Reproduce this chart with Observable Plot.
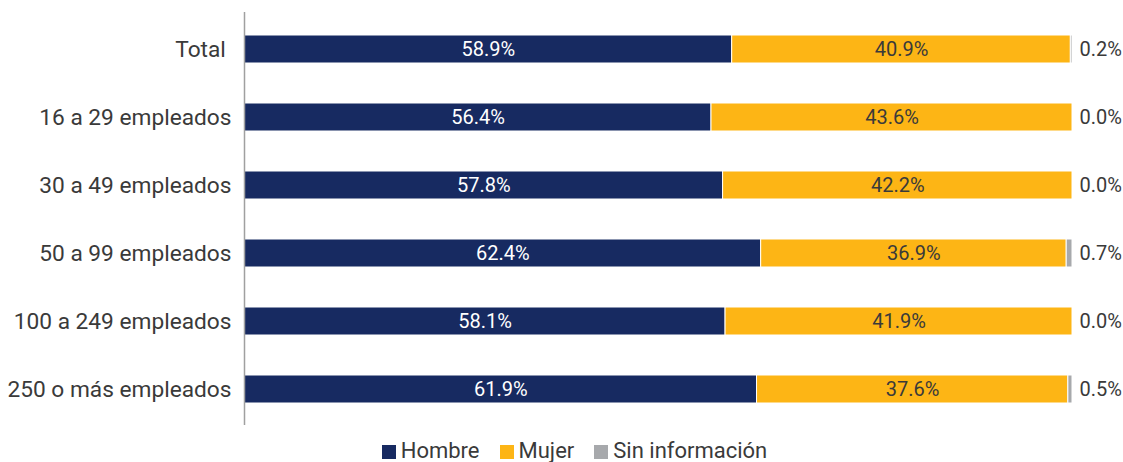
<!DOCTYPE html>
<html><head><meta charset="utf-8">
<script src="https://cdn.jsdelivr.net/npm/d3@7"></script>
<script src="https://cdn.jsdelivr.net/npm/@observablehq/plot@0.6"></script>
<style>
body{margin:0;background:#fff;font-family:Roboto,sans-serif;overflow:hidden;}
#chart svg{display:block;}
#legend{display:flex;justify-content:center;gap:20px;font-size:22px;line-height:26px;color:#3a3a3a;margin-left:26px;margin-top:10px;}
#legend span.sw{display:inline-block;width:14px;height:14px;margin-right:5px;vertical-align:-1px;}
</style></head><body>
<div id="chart"></div>
<div id="legend"></div>
<script>
const categories = ["Total","16 a 29 empleados","30 a 49 empleados","50 a 99 empleados","100 a 249 empleados","250 o más empleados"];
const series = ["Hombre","Mujer","Sin información"];
const hombre = [58.9,56.4,57.8,62.4,58.1,61.9];
const mujer = [40.9,43.6,42.2,36.9,41.9,37.6];
const sinInfo = [0.2,0.0,0.0,0.7,0.0,0.5];
const colors = ["#172a61","#fdb515","#a7a9ac"];

const rows = [];
categories.forEach((c,i)=>{
  const vals=[hombre[i],mujer[i],sinInfo[i]];
  let x0=0;
  series.forEach((s,j)=>{rows.push({cat:c,serie:s,value:vals[j],x1:x0,x2:x0+vals[j]});x0+=vals[j];});
});
const fmt = v => v.toFixed(1)+"%";

const plot = Plot.plot({
  width:1123, height:428,
  marginLeft:244, marginRight:51, marginTop:12, marginBottom:3,
  style:{fontFamily:"Roboto, sans-serif", fontSize:"22.7px", color:"#3a3a3a"},
  x:{domain:[0,100], axis:null},
  y:{domain:categories, paddingInner:0.59, paddingOuter:0.295, label:null, tickSize:0, tickPadding:13,
     tickFormat:d => d==="Total" ? "Total\u00a0" : d},
  color:{domain:series, range:colors},
  marks:[
    Plot.barX(rows,{y:"cat",x1:"x1",x2:"x2",fill:"serie",stroke:"white",strokeWidth:1}),
    Plot.text(rows.filter(d=>d.serie==="Hombre"),{y:"cat",x:d=>(d.x1+d.x2)/2,text:d=>fmt(d.value),fill:"white",fontSize:20}),
    Plot.text(rows.filter(d=>d.serie==="Mujer"),{y:"cat",x:d=>(d.x1+d.x2)/2,text:d=>fmt(d.value),fill:"#3a3a3a",fontSize:20}),
    Plot.text(rows.filter(d=>d.serie==="Sin información"),{y:"cat",x:100,dx:7,textAnchor:"start",text:d=>fmt(d.value),fill:"#3a3a3a",fontSize:20}),
    Plot.ruleX([0],{stroke:"#a0a0a0",strokeWidth:1.5})
  ]
});
document.getElementById("chart").appendChild(plot);
const lg=document.getElementById("legend");
series.forEach((s,i)=>{
  const d=document.createElement("div");
  d.innerHTML=`<span class="sw" style="background:${colors[i]}"></span>${s}`;
  lg.appendChild(d);
});
</script>
</body></html>
